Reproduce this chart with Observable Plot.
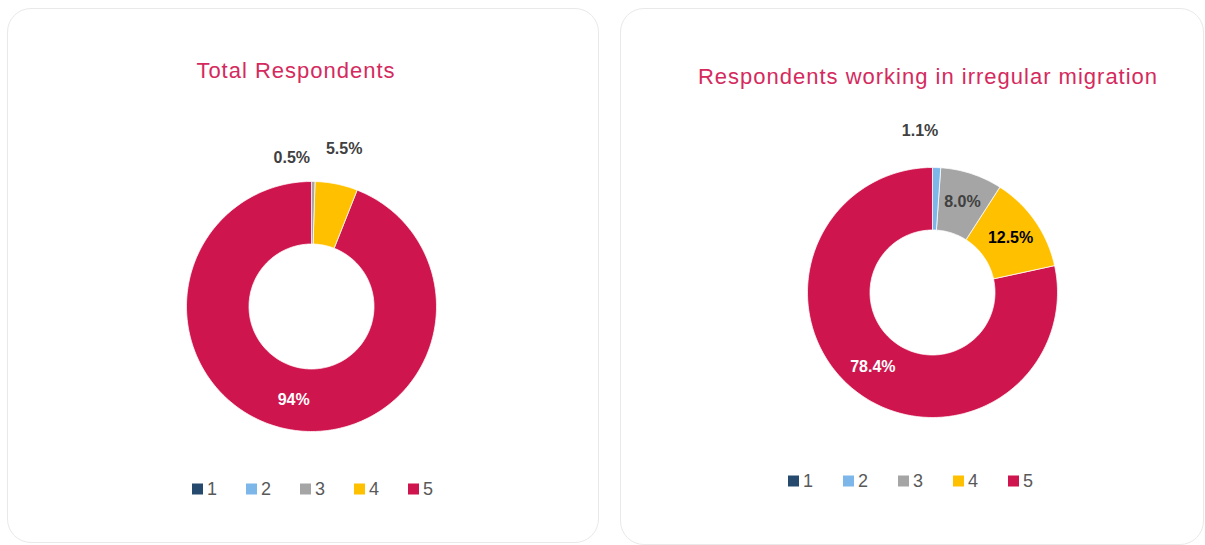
<!DOCTYPE html>
<html>
<head>
<meta charset="utf-8">
<script src="https://cdn.jsdelivr.net/npm/d3@7"></script>
<script src="https://cdn.jsdelivr.net/npm/@observablehq/plot@0.6"></script>
<style>
  html, body { margin: 0; padding: 0; background: #fff; }
  body { width: 1205px; height: 545px; position: relative; overflow: hidden; font-family: "Liberation Sans", Arial, sans-serif; }
  .panel { position: absolute; border: 1.5px solid #e9e9e9; border-radius: 24px; box-sizing: border-box; background: #fff; }
  .title { position: absolute; white-space: nowrap; font-size: 22px; letter-spacing: 1px; color: #d42a5e; transform: translate(-50%, -50%); line-height: 1; }
  .chart { position: absolute; }
  .legend { position: absolute; display: flex; align-items: center; font-size: 18px; color: #595959; transform: translateY(-50%); }
  .legend .item { display: flex; align-items: center; }
  .legend .sw { width: 11px; height: 11px; margin-right: 4px; }
</style>
</head>
<body>
<div class="panel" style="left:7px; top:8px; width:592px; height:535px;"></div>
<div class="panel" style="left:620px; top:8px; width:584px; height:537px;"></div>
<script>
// ---- data ----
const categories = ["1", "2", "3", "4", "5"];
const totalValues = [0, 0, 0.5, 5.5, 94];
const irregularValues = [0, 1.1, 8.0, 12.5, 78.4];
const totalLabels = ["", "", "0.5%", "5.5%", "94%"];
const irregularLabels = ["", "1.1%", "8.0%", "12.5%", "78.4%"];
const titles = ["Total Respondents", "Respondents working in irregular migration"];

// ---- styles ----
const colors = ["#264a6e", "#7db7ea", "#a5a5a5", "#ffc000", "#cf154d"];
const insideInk = {"3": "#404040", "4": "#000000", "5": "#ffffff"};
const R = 125, INNER = 0.5, SIDE = 350, EXT = SIDE / 2 / R;

function donut(values, labels, cx, cy) {
  const pie = d3.pie().sort(null).value(d => d.value);
  const rows = categories.map((c, i) => ({cat: c, value: values[i], label: labels[i]}));
  const arcs = pie(rows).filter(a => a.data.value > 0);
  // slice outlines sampled along the arcs
  const pts = [];
  for (const a of arcs) {
    const n = Math.max(2, Math.ceil((a.endAngle - a.startAngle) / 0.02));
    for (let k = 0; k <= n; k++) {
      const t = a.startAngle + (a.endAngle - a.startAngle) * k / n;
      pts.push({cat: a.data.cat, x: Math.sin(t), y: Math.cos(t)});
    }
    for (let k = n; k >= 0; k--) {
      const t = a.startAngle + (a.endAngle - a.startAngle) * k / n;
      pts.push({cat: a.data.cat, x: INNER * Math.sin(t), y: INNER * Math.cos(t)});
    }
  }
  // labels: inside for large slices, outside (best fit) for small ones
  const isOut = a => a.data.value < 7;
  const inside = [], outside = [];
  arcs.forEach((a, i) => {
    const m = (a.startAngle + a.endAngle) / 2;
    if (!isOut(a)) {
      inside.push({cat: a.data.cat, label: a.data.label, x: 0.76 * Math.sin(m), y: 0.76 * Math.cos(m)});
    } else {
      const crowded = arcs[i + 1] && isOut(arcs[i + 1]);
      const r = crowded ? 1.19 : 1.29;
      const nudge = crowded ? -22 / R : (m < 0.09 ? -18 / R : 0);
      outside.push({cat: a.data.cat, label: a.data.label, x: r * Math.sin(m) + nudge, y: r * Math.cos(m)});
    }
  });
  const plot = Plot.plot({
    width: SIDE, height: SIDE,
    margin: 0,
    x: {domain: [-EXT, EXT], axis: null},
    y: {domain: [-EXT, EXT], axis: null},
    color: {domain: categories, range: colors},
    style: {background: "transparent", overflow: "visible"},
    marks: [
      Plot.line(pts, {x: "x", y: "y", z: "cat", fill: "cat", stroke: "#ffffff", strokeWidth: 0.75, curve: "linear-closed"}),
      Plot.text(inside, {x: "x", y: "y", text: "label", fill: d => insideInk[d.cat], fontSize: 16, fontWeight: "bold", fontFamily: "Liberation Sans, Arial, sans-serif"}),
      Plot.text(outside, {x: "x", y: "y", text: "label", fill: "#404040", fontSize: 16, fontWeight: "bold", fontFamily: "Liberation Sans, Arial, sans-serif"})
    ]
  });
  const wrap = document.createElement("div");
  wrap.className = "chart";
  wrap.style.left = (cx - SIDE / 2) + "px";
  wrap.style.top = (cy - SIDE / 2) + "px";
  wrap.appendChild(plot);
  document.body.appendChild(wrap);
}

function title(text, cx, cy) {
  const d = document.createElement("div");
  d.className = "title";
  d.textContent = text;
  d.style.left = cx + "px";
  d.style.top = cy + "px";
  document.body.appendChild(d);
}

function legend(left, cy, pitch) {
  const d = document.createElement("div");
  d.className = "legend";
  d.style.left = left + "px";
  d.style.top = cy + "px";
  categories.forEach((c, i) => {
    const it = document.createElement("div");
    it.className = "item";
    it.style.width = (i < categories.length - 1 ? pitch : 30) + "px";
    const sw = document.createElement("span");
    sw.className = "sw";
    sw.style.background = colors[i];
    const tx = document.createElement("span");
    tx.textContent = c;
    it.appendChild(sw);
    it.appendChild(tx);
    d.appendChild(it);
  });
  document.body.appendChild(d);
}

title(titles[0], 296, 71);
title(titles[1], 928, 77);
donut(totalValues, totalLabels, 311, 306);
donut(irregularValues, irregularLabels, 932, 292);
legend(192, 489, 54);
legend(788, 481, 55);
</script>
</body>
</html>
